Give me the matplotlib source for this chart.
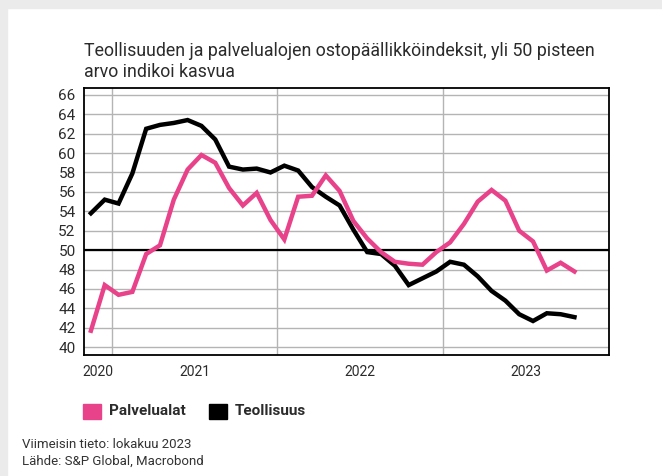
import numpy as np
import matplotlib.pyplot as plt
from matplotlib.patches import Rectangle

# Monthly index values, Nov 2020 .. Oct 2023
palvelualat = [41.7, 46.4, 45.4, 45.7, 49.6, 50.5, 55.2, 58.3, 59.8, 59.0, 56.4, 54.6,
               55.9, 53.1, 51.1, 55.5, 55.6, 57.7, 56.1, 53.0, 51.2, 49.8, 48.8, 48.6,
               48.5, 49.8, 50.8, 52.7, 55.0, 56.2, 55.1, 52.0, 50.9, 47.9, 48.7, 47.8]
teollisuus = [53.8, 55.2, 54.8, 57.9, 62.5, 62.9, 63.1, 63.4, 62.8, 61.4, 58.6, 58.3,
              58.4, 58.0, 58.7, 58.2, 56.5, 55.5, 54.6, 52.1, 49.8, 49.6, 48.4, 46.4,
              47.1, 47.8, 48.8, 48.5, 47.3, 45.8, 44.8, 43.4, 42.7, 43.5, 43.4, 43.1]
years = ["2020", "2021", "2022", "2023"]
year_starts = [1.5, 13.5, 25.5]          # Jan of 2021..2023 in month index
year_centers = [0.5, 7.5, 19.5, 31.5]
y_ticks = list(range(40, 67, 2))

PINK = "#e8428a"
TEXT = "#2b2b2b"
plt.rcParams['font.family'] = ['Roboto', 'DejaVu Sans']

fig = plt.figure(figsize=(6.62, 4.76), dpi=100)
fig.patches.append(Rectangle((0, 1 - 8 / 476), 1, 8 / 476, transform=fig.transFigure,
                             color="#ebebeb", zorder=0))
fig.patches.append(Rectangle((0, 0), 7 / 662, 1, transform=fig.transFigure,
                             color="#ebebeb", zorder=0))

ax = fig.add_axes([84 / 662, 121 / 476, 525 / 662, 267 / 476])
x = np.arange(len(palvelualat))

for y in y_ticks:
    ax.axhline(y, color="#b4b4b4", lw=1, zorder=1)
for xs in year_starts:
    ax.axvline(xs, color="#b4b4b4", lw=1, zorder=1)
ax.axhline(50, color="black", lw=1.6, zorder=2)

ax.plot(x, teollisuus, color="black", lw=3.2, solid_joinstyle="miter", zorder=3)
ax.plot(x, palvelualat, color=PINK, lw=3.2, solid_joinstyle="miter", zorder=4)

ax.set_xlim(-0.5, 37.5)
ax.set_ylim(39.2, 66.7)
ax.set_yticks(y_ticks)
ax.set_yticklabels([str(v) for v in y_ticks], fontsize=11, color=TEXT)
ax.set_xticks(year_centers)
ax.set_xticklabels(years, fontsize=10, color=TEXT)
ax.tick_params(axis="both", length=0)
ax.tick_params(axis="y", pad=6)
ax.tick_params(axis="x", pad=7)
for s in ax.spines.values():
    s.set_color("black")
    s.set_linewidth(1.3)

fig.text(84 / 662, 1 - 42 / 476,
         "Teollisuuden ja palvelualojen ostopäällikköindeksit, yli 50 pisteen\narvo indikoi kasvua",
         fontsize=12.8, color=TEXT, va="top", ha="left", linespacing=1.2)

# legend
fig.patches.append(Rectangle((83 / 662, 1 - 419 / 476), 18 / 662, 15 / 476,
                             transform=fig.transFigure, color=PINK))
fig.text(109 / 662, 1 - 411 / 476, "Palvelualat", fontsize=11, fontweight="bold",
         color=TEXT, va="center", ha="left")
fig.patches.append(Rectangle((209 / 662, 1 - 419 / 476), 18 / 662, 15 / 476,
                             transform=fig.transFigure, color="black"))
fig.text(235 / 662, 1 - 411 / 476, "Teollisuus", fontsize=11, fontweight="bold",
         color=TEXT, va="center", ha="left")

fig.text(22 / 662, 1 - 445 / 476, "Viimeisin tieto: lokakuu 2023", fontsize=9.5,
         color="#333333", va="center", ha="left")
fig.text(22 / 662, 1 - 461 / 476, "Lähde: S&P Global, Macrobond", fontsize=9.5,
         color="#333333", va="center", ha="left")

fig.savefig("out.png", dpi=100)
